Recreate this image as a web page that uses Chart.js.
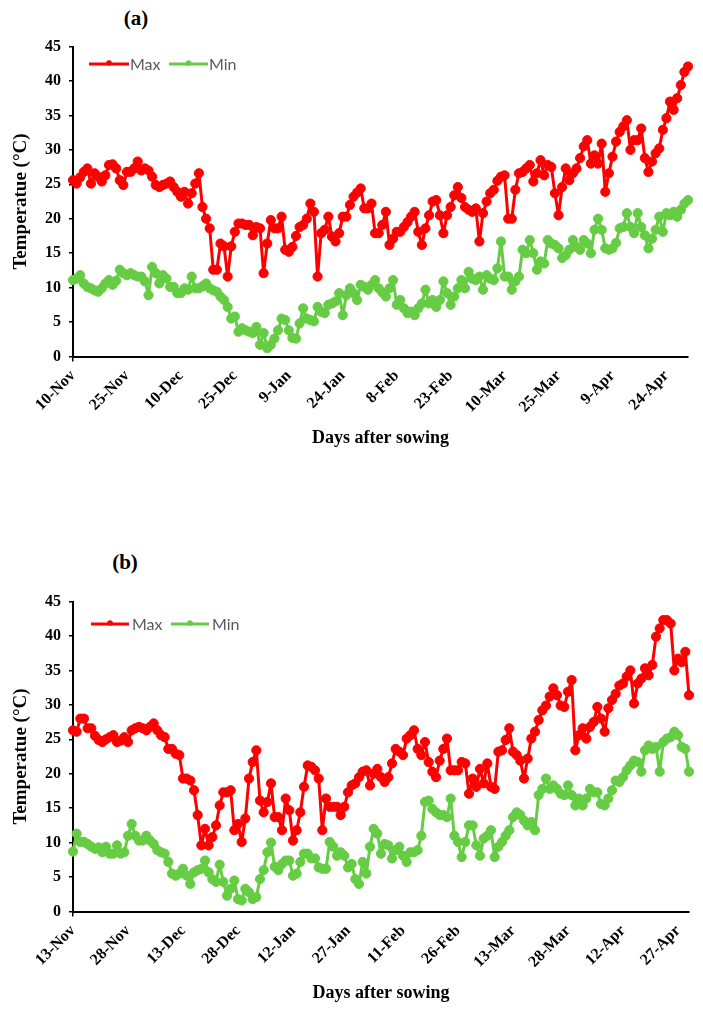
<!DOCTYPE html>
<html><head><meta charset="utf-8">
<script src="https://cdn.jsdelivr.net/npm/chart.js@4.4.1/dist/chart.umd.min.js"></script>
<style>
html,body{margin:0;padding:0;background:#fff;width:703px;height:1009px;overflow:hidden;position:relative;}
.wrap{position:absolute;left:0;width:703px;height:460px;}
#wa{top:0}
#wb{top:555px}
.ptitle{position:absolute;font:bold 21px 'Liberation Serif','Times New Roman',serif;color:#000;transform:translate(-50%,-50%);white-space:nowrap;}
</style></head><body>
<div class="ptitle" style="left:136px;top:18px">(a)</div>
<div class="ptitle" style="left:125px;top:562px">(b)</div>
<div class="wrap" id="wa"><canvas id="ca" width="703" height="460"></canvas></div>
<div class="wrap" id="wb"><canvas id="cb" width="703" height="460"></canvas></div>
<script>
// ---------- DATA ----------
const startDateA = '2018-11-10';
const startDateB = '2018-11-13';
const tickLabelsA = ['10-Nov','25-Nov','10-Dec','25-Dec','9-Jan','24-Jan','8-Feb','23-Feb','10-Mar','25-Mar','9-Apr','24-Apr'];
const tickLabelsB = ['13-Nov','28-Nov','13-Dec','28-Dec','12-Jan','27-Jan','11-Feb','26-Feb','13-Mar','28-Mar','12-Apr','27-Apr'];
const seriesNames = ['Max','Min'];

const maxA = [
25.6,25.1,26.0,26.8,27.3,25.1,26.6,26.1,25.4,26.3,
27.8,27.9,27.3,25.6,24.9,26.8,26.8,27.3,28.3,27.0,
27.3,27.0,26.1,24.9,24.6,24.9,25.1,25.4,24.6,23.9,
23.2,23.9,22.2,23.7,25.1,26.6,21.7,20.0,18.6,12.6,
12.6,16.4,16.0,11.6,16.0,18.1,19.3,19.3,19.1,19.1,
17.6,18.8,18.6,12.1,16.4,19.8,18.6,18.6,20.3,
15.5,15.2,15.9,17.5,18.8,19.1,20.0,22.2,21.0,11.6,
17.9,18.4,20.3,17.4,16.7,17.9,20.3,20.3,22.0,23.2,
23.8,24.4,21.5,21.5,22.2,17.9,17.9,19.1,21.0,16.2,
17.1,18.1,18.1,18.8,19.5,20.3,21.0,18.1,16.2,18.6,
20.5,22.5,22.7,20.5,17.9,20.5,21.7,23.4,24.6,23.0,
21.7,21.3,21.0,21.5,16.7,20.8,22.5,
23.7,24.2,25.5,26.1,26.3,20.0,20.0,24.2,26.6,26.8,
27.3,27.8,25.4,26.6,
28.5,26.3,27.8,27.5,23.7,20.5,24.6,27.3,25.6,26.6,
27.3,28.8,30.5,31.4,28.0,29.2,28.0,30.9,23.9,26.6,
29.0,31.2,32.6,33.4,34.3,30.0,31.4,31.4,33.1,28.8,
26.8,28.3,29.5,30.2,32.9,34.6,37.0,35.8,37.5,39.4,41.3,42.1
];
const minA = [
11.1,11.3,11.8,10.6,10.1,9.9,9.6,9.4,9.9,10.6,
11.1,10.4,11.0,12.6,12.1,11.8,12.1,11.8,11.6,11.6,
10.9,8.9,13.0,12.1,10.6,11.8,11.3,10.1,10.1,9.2,
9.2,9.9,9.7,11.6,9.9,9.9,10.2,10.6,9.9,9.6,
9.4,8.7,8.2,7.2,5.5,5.8,3.6,4.1,3.8,3.6,
3.4,4.3,1.7,3.4,1.2,1.7,2.6,3.8,5.5,5.3,
3.8,2.7,2.6,4.8,7.0,5.5,5.3,5.1,7.2,6.5,
6.3,7.5,7.7,8.0,9.2,6.0,8.9,9.9,9.2,8.2,
10.4,10.1,9.7,10.4,11.1,9.9,9.3,8.7,9.9,11.1,
7.5,8.2,7.0,6.3,6.5,6.0,7.0,7.7,9.7,7.7,
8.2,7.2,8.2,10.9,9.2,7.5,8.7,9.9,11.1,9.9,
12.3,11.3,11.1,11.6,9.7,11.8,11.3,11.1,12.8,16.7,
11.6,11.6,9.7,10.9,11.6,15.5,15.0,16.9,15.0,12.6,
13.8,13.5,16.9,16.4,16.2,15.7,14.3,14.7,15.5,16.9,
15.9,15.5,16.9,16.4,15.0,18.4,20.0,18.4,15.7,15.5,
15.7,16.5,18.6,18.8,20.8,18.8,17.9,20.8,18.8,17.6,
15.7,17.1,18.4,20.3,18.1,20.8,20.5,21.0,20.3,21.3,
22.2,22.7
];
const maxB = [
26.3,26.1,28.0,28.0,26.6,26.6,25.5,24.9,24.6,25.0,
25.3,25.6,24.6,24.8,25.3,24.6,26.3,26.6,26.8,26.6,
26.3,26.8,27.3,26.3,25.6,25.3,23.6,23.6,22.9,22.7,
19.3,19.3,19.0,17.6,14.0,9.6,12.0,9.6,10.8,12.5,
15.4,17.3,17.3,17.6,11.8,12.7,10.1,13.5,19.3,21.7,
23.4,16.1,14.4,15.9,
18.6,13.7,13.7,11.8,16.4,14.7,10.3,11.8,14.4,18.1,
21.2,21.0,20.5,19.3,11.8,16.4,15.2,15.2,15.2,14.0,
15.2,17.3,18.3,18.6,19.5,20.3,20.5,18.3,20.0,20.7,
19.5,18.8,19.5,21.5,23.6,23.2,22.7,25.1,25.6,26.3,
23.6,22.7,24.6,21.7,20.3,19.5,21.9,23.6,25.1,20.5,
20.5,20.5,21.7,21.5,17.1,19.3,18.1,
20.7,18.6,21.5,18.1,17.8,23.2,23.4,24.9,26.6,23.2,
22.7,21.9,19.3,22.2,25.1,26.1,27.8,29.2,29.9,31.2,
32.4,31.4,29.9,29.7,31.9,33.6,23.4,25.6,26.6,25.1,
26.8,27.5,29.7,28.0,26.1,29.5,30.7,31.6,32.8,33.1,
34.1,35.0,30.2,33.1,33.8,35.3,34.3,35.8,39.9,41.1,
42.3,42.3,41.8,35.0,36.7,36.2,37.7,31.4
];
const minB = [
8.7,11.3,10.1,10.1,9.8,9.4,9.1,9.3,8.6,9.4,
8.4,8.4,9.6,8.4,8.6,11.0,12.7,11.0,10.3,10.3,
11.0,10.3,9.8,8.9,8.6,8.4,7.2,5.5,5.2,5.5,
6.2,5.2,4.0,5.7,6.0,6.2,7.4,
5.7,4.7,4.3,6.8,4.3,2.3,3.3,4.5,1.8,1.6,
3.3,2.8,1.8,2.1,4.7,6.0,8.6,10.0,6.5,6.0,
6.9,7.4,7.4,5.2,5.5,7.2,8.4,8.4,7.7,7.7,
6.4,6.2,6.2,10.1,9.4,8.1,8.6,8.1,6.4,6.9,
4.7,4.0,7.2,5.5,9.4,12.0,11.3,8.4,9.8,9.6,
7.7,8.9,9.4,8.1,7.2,8.6,8.6,8.9,11.0,15.9,
16.1,14.9,14.4,14.0,14.0,13.7,16.4,11.0,10.1,7.9,
10.1,12.5,12.5,9.6,
8.1,10.6,11.0,11.8,7.9,9.4,10.1,11.0,11.8,13.7,
14.4,14.0,13.2,12.5,13.0,11.8,16.9,17.8,19.3,17.8,
18.3,17.8,17.1,16.9,18.3,16.9,15.4,16.4,15.4,16.4,
17.8,17.3,17.3,15.6,15.4,16.4,17.6,19.0,18.8,19.5,
20.5,21.2,21.9,21.7,20.3,23.4,24.1,23.6,23.9,20.3,
24.6,25.1,25.3,26.1,25.6,23.9,23.6,20.3
];

// ---------- HELPERS ----------
const MONTHS = ['Jan','Feb','Mar','Apr','May','Jun','Jul','Aug','Sep','Oct','Nov','Dec'];
function dayCategories(start, n) {
  const t0 = new Date(start + 'T00:00:00Z').getTime();
  const out = [];
  for (let i = 0; i < n; i++) {
    const d = new Date(t0 + i * 86400000);
    out.push(d.getUTCDate() + '-' + MONTHS[d.getUTCMonth()]);
  }
  return out;
}
const categoriesA = dayCategories(startDateA, maxA.length);
const categoriesB = dayCategories(startDateB, maxB.length);

const RED = '#FF0000';
const GREEN = '#66CC44';
const SERIF = "'Liberation Serif','Times New Roman',serif";

function legendPlugin(cfg) {
  return {
    id: 'insideLegend',
    afterDraw(chart) {
      const ctx = chart.ctx;
      ctx.save();
      cfg.items.forEach((it, k) => {
        const ds = chart.data.datasets[k];
        ctx.strokeStyle = ds.borderColor;
        ctx.lineWidth = 3;
        ctx.beginPath();
        ctx.moveTo(it.x1, cfg.y);
        ctx.lineTo(it.x2, cfg.y);
        ctx.stroke();
        ctx.fillStyle = ds.borderColor;
        ctx.beginPath();
        ctx.arc((it.x1 + it.x2) / 2, cfg.y - 1, 2.8, 0, Math.PI * 2);
        ctx.fill();
        ctx.fillStyle = '#595959';
        ctx.font = "16px Lato, 'Open Sans', sans-serif";
        ctx.textBaseline = 'middle';
        ctx.textAlign = 'left';
        ctx.fillText(ds.label, it.tx, cfg.y + 1);
      });
      ctx.restore();
    }
  };
}

function makeChart(id, cats, maxV, minV, tickLabels, rightPad, legendCfg) {
  const mk = (name, data, color) => ({
    label: name, data: data,
    borderColor: color, backgroundColor: color,
    pointBackgroundColor: color, pointBorderColor: color,
    borderWidth: 3, pointRadius: 4.6, pointBorderWidth: 1, pointHoverRadius: 4.6,
    borderJoinStyle: 'round', borderCapStyle: 'round',
    tension: 0, clip: false
  });
  return new Chart(document.getElementById(id), {
    type: 'line',
    data: { labels: cats, datasets: [mk(seriesNames[0], maxV, RED), mk(seriesNames[1], minV, GREEN)] },
    options: {
      responsive: false, animation: false, devicePixelRatio: 1, events: [],
      layout: { padding: { left: 0, right: rightPad, top: 46.5, bottom: 10 } },
      plugins: { legend: { display: false }, tooltip: { enabled: false } },
      scales: {
        x: {
          type: 'category', offset: false,
          grid: {
            drawOnChartArea: false, drawTicks: true, tickLength: 5, lineWidth: 1.5,
            color: c => (tickLabels.includes(cats[c.index]) ? '#000' : 'rgba(0,0,0,0)')
          },
          border: { display: true, color: '#000', width: 2 },
          ticks: {
            autoSkip: false, maxRotation: 45, minRotation: 45, padding: 5, color: '#000',
            font: { family: SERIF, size: 16, weight: 'bold' },
            callback: (v, i) => (tickLabels.includes(cats[i]) ? cats[i] : null)
          },
          title: { display: true, text: 'Days after sowing', color: '#000',
                   font: { family: SERIF, size: 18, weight: 'bold' }, padding: { top: 0, bottom: 1 } },
          afterFit: s => { s.height = 93.5; }
        },
        y: {
          min: 0, max: 45,
          ticks: { stepSize: 5, color: '#000', padding: 8, font: { family: SERIF, size: 16, weight: 'bold' } },
          grid: { drawOnChartArea: false, drawTicks: true, tickLength: 4, color: '#000', lineWidth: 1.5 },
          border: { display: true, color: '#000', width: 2 },
          title: { display: true, text: 'Temperatue (°C)', color: '#000',
                   font: { family: SERIF, size: 19, weight: 'bold' }, padding: { top: 10, bottom: 0 } },
          afterFit: s => { s.width = 73; }
        }
      }
    },
    plugins: [legendPlugin(legendCfg)]
  });
}

makeChart('ca', categoriesA, maxA, minA, tickLabelsA, 15,
  { y: 64, items: [{ x1: 89, x2: 129, tx: 130 }, { x1: 169, x2: 208, tx: 209 }] });
makeChart('cb', categoriesB, maxB, minB, tickLabelsB, 14,
  { y: 69, items: [{ x1: 91, x2: 129, tx: 132 }, { x1: 171, x2: 209, tx: 212 }] });
</script>
</body></html>
